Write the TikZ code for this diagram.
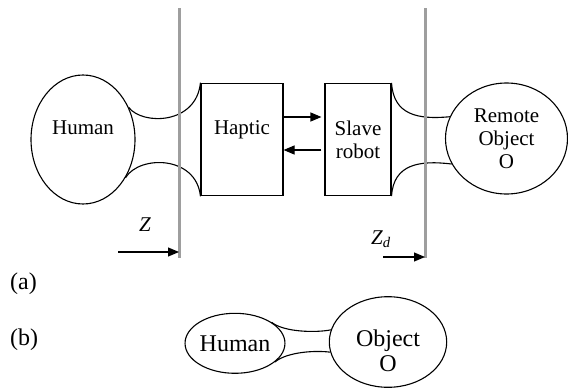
\documentclass[tikz,border=0pt]{standalone}
\usepackage{fontspec}
\setmainfont{Liberation Serif}
\usetikzlibrary{shapes.geometric,arrows.meta}
\definecolor{wallgray}{RGB}{158,158,158}

\begin{document}
\begin{tikzpicture}[x=1pt, y=-1pt,
  part/.style={draw, line width=1.1pt, inner sep=0pt, align=center, font=\fontsize{21}{23}\selectfont},
  blob/.style={part, ellipse},
  box/.style={part, rectangle},
  uptext/.style={text height=14pt, text depth=25pt},
  neck/.style={line width=1.1pt},
  wall/.style={wallgray, line width=3pt},
  push/.style={line width=1.1pt, -{Triangle[length=11pt,width=9pt]}},
  tag/.style={font=\fontsize{24}{25}\selectfont}]
  \useasboundingbox (0,0) rectangle (568,388);
  \node[blob, uptext, minimum width=104pt, minimum height=129pt] (human) at (83,139.5) {Human};
  \node[box, uptext, minimum width=82pt, minimum height=112.7pt] (haptic) at (242,139.5) {Haptic};
  \node[box, minimum width=66pt, minimum height=112pt] (slave) at (358,139.5) {Slave\\robot};
  \node[blob, minimum width=122pt, minimum height=111pt] (remote) at (506.5,138.5) {Remote\\Object\\O};
  \draw[neck] (human.35) .. controls +(14,18) and +(-4,42) .. (haptic.north west);
  \draw[neck] (human.-42) .. controls +(14,-23) and +(-4,-41) .. (haptic.south west);
  \draw[neck] (slave.north east) .. controls +(2,32) and +(-32,3) .. (remote.159);
  \draw[neck] (slave.south east) .. controls +(2,-32) and +(-32,-4) .. (remote.205);
  \draw[push, shorten >=3pt] ([yshift=22.5pt]haptic.east) -- ([yshift=22.5pt]slave.west);
  \draw[push, shorten <=3pt] ([yshift=-10.5pt]slave.west) -- ([yshift=-10.5pt]haptic.east);
  \coordinate (zltop) at (179,8);
  \coordinate (zlbot) at (179,258);
  \coordinate (zrtop) at (425,8);
  \coordinate (zrbot) at (425,258);
  \coordinate (zfrom) at (118,252);
  \coordinate (zdfrom) at (383,257);
  \draw[wall] (zltop) -- (zlbot);
  \draw[wall] (zrtop) -- (zrbot);
  \draw[push] (zfrom) -- ([yshift=6pt]zlbot);
  \draw[push] (zdfrom) -- ([yshift=1pt]zrbot);
  \node[font=\fontsize{21}{23}\selectfont] (zlab) at (145,225) {\textit{Z}};
  \node[font=\fontsize{21}{23}\selectfont] (zdlab) at (381,239) {\textit{Z}\textsubscript{\textit{d}}};
  \node[tag, anchor=west, inner sep=0pt] (taga) at (10,284) {(a)};
  \node[tag, anchor=west, inner sep=0pt] (tagb) at (10,340) {(b)};
  \node[blob, tag, minimum width=98pt, minimum height=60pt] (human2) at (235,343.3) {Human};
  \node[blob, tag, text height=58pt, text depth=0pt, minimum width=117.4pt, minimum height=90.6pt] (object) at (388,342) {Object\\O};
  \draw[neck] (human2.30) .. controls +(12,10) and +(-15,3) .. (object.168);
  \draw[neck] (human2.-25) .. controls +(12,-10) and +(-15,-2) .. (object.190);
\end{tikzpicture}
\end{document}
